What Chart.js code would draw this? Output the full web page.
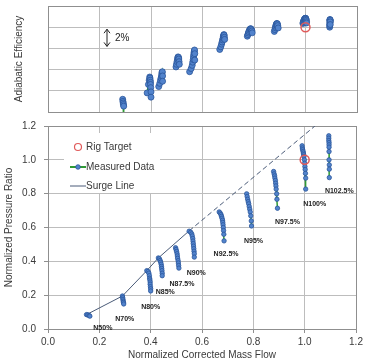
<!DOCTYPE html>
<html><head><meta charset="utf-8">
<script src="https://cdn.jsdelivr.net/npm/chart.js@4"></script>
<style>
html,body{margin:0;padding:0;background:#fff;}
#wrap{position:relative;width:367px;height:361px;overflow:hidden;}
#c1{position:absolute;left:0;top:0;}
#c2{position:absolute;left:0;top:118px;}
</style></head><body>
<div id="wrap"><canvas id="c1" width="367" height="118"></canvas><canvas id="c2" width="367" height="243"></canvas></div>
<script>
// ---- data ----
const speedNames = ['N50%','N70%','N80%','N85%','N87.5%','N90%','N92.5%','N95%','N97.5%','N100%','N102.5%'];

const flowN50 = [0.150,0.155,0.160,0.163];
const prN50   = [0.085,0.084,0.080,0.076];
const effN50  = [-3.0,-3.2,-3.6,-4.2];

const flowN70 = [0.290,0.291,0.292,0.293,0.294,0.295];
const prN70   = [0.195,0.185,0.175,0.165,0.157,0.148];
const effN70  = [1.2,1.0,0.85,0.7,0.55,-1.5];

const flowN80 = [0.385,0.390,0.393,0.395,0.396,0.397,0.398,0.398,0.399,0.400,0.400];
const prN80   = [0.345,0.340,0.330,0.315,0.300,0.290,0.278,0.265,0.250,0.238,0.225];
const effN80  = [1.8,2.6,3.0,3.3,3.2,3.0,2.8,2.6,2.3,1.9,1.4];

const flowN85 = [0.430,0.434,0.437,0.439,0.441,0.442,0.443,0.444,0.445,0.445];
const prN85   = [0.420,0.415,0.405,0.395,0.383,0.370,0.358,0.345,0.330,0.315];
const effN85  = [2.4,2.7,3.0,3.2,3.4,3.6,3.75,3.8,3.4,2.9];

const flowN875 = [0.497,0.499,0.501,0.503,0.504,0.505,0.507,0.508,0.509,0.510];
const prN875   = [0.480,0.470,0.458,0.445,0.432,0.418,0.404,0.390,0.375,0.360];
const effN875  = [4.25,4.5,4.75,4.95,5.1,5.2,5.15,5.0,4.75,4.5];

const flowN90 = [0.550,0.556,0.560,0.562,0.564,0.565,0.566,0.567,0.568,0.569,0.570,0.570];
const prN90   = [0.578,0.572,0.562,0.550,0.535,0.520,0.505,0.490,0.475,0.460,0.445,0.425];
const effN90  = [3.8,4.1,4.4,4.7,4.95,5.2,5.4,5.6,5.75,5.85,5.5,4.9];

const flowN925 = [0.667,0.671,0.674,0.676,0.678,0.680,0.681,0.682,0.683,0.684,0.685,0.686];
const prN925   = [0.692,0.685,0.676,0.666,0.655,0.643,0.630,0.616,0.600,0.582,0.560,0.521];
const effN925  = [5.9,6.15,6.4,6.6,6.8,6.95,7.1,7.22,7.3,7.25,7.05,6.85];

const flowN95 = [0.774,0.776,0.778,0.780,0.782,0.784,0.786,0.788,0.790,0.792,0.793];
const prN95   = [0.799,0.783,0.767,0.753,0.740,0.724,0.708,0.692,0.669,0.639,0.609];
const effN95  = [7.15,7.3,7.45,7.58,7.7,7.8,7.85,7.85,7.78,7.65,7.47];

const flowN975 = [0.879,0.881,0.883,0.884,0.886,0.887,0.888,0.889,0.891,0.892,0.894];
const prN975   = [0.931,0.917,0.905,0.892,0.878,0.862,0.846,0.827,0.799,0.767,0.714];
const effN975  = [7.6,7.78,7.95,8.08,8.2,8.28,8.33,8.35,8.3,8.15,7.93];

const flowN100 = [0.990,0.991,0.992,0.994,0.995,0.996,0.997,0.999,1.000,1.001,1.002,1.003,1.004,1.004];
const prN100   = [1.083,1.070,1.060,1.050,1.040,1.030,1.020,1.000,0.980,0.960,0.943,0.920,0.892,0.827];
const effN100  = [8.35,8.45,8.55,8.62,8.7,8.76,8.8,8.84,8.85,8.82,8.75,8.65,8.52,8.4];

const flowN1025 = [1.094,1.094,1.094,1.095,1.095,1.095,1.095,1.095,1.096,1.096,1.096];
const prN1025   = [1.142,1.128,1.114,1.102,1.089,1.075,1.049,1.000,0.970,0.945,0.895];
const effN1025  = [8.0,8.15,8.3,8.45,8.55,8.65,8.7,8.72,8.65,8.5,8.25];

const rigFlow = [1.0];
const rigPr   = [1.0];
const rigEff  = [8.0];

const surgeFlow = [0.150,0.290,0.385,0.430,0.550];
const surgePr   = [0.085,0.195,0.345,0.420,0.580];
const surgeExtFlow = [0.550,1.040];
const surgeExtPr   = [0.580,1.200];

const xTicks = [0,0.2,0.4,0.6,0.8,1.0,1.2];
const prTicks = [0,0.2,0.4,0.6,0.8,1.0,1.2];
const effGrid = [0,2,4,6,8,10];

const allFlow = [flowN50,flowN70,flowN80,flowN85,flowN875,flowN90,flowN925,flowN95,flowN975,flowN100,flowN1025];
const allPr   = [prN50,prN70,prN80,prN85,prN875,prN90,prN925,prN95,prN975,prN100,prN1025];
const allEff  = [effN50,effN70,effN80,effN85,effN875,effN90,effN925,effN95,effN975,effN100,effN1025];

// label offsets (px) from the last point of each speed line
const labelDx = [13,1,0,3,3,2,2,2,10,9,10];
const labelDy = [12,15,16,16,16,16,13,15,14,15,13];

// ---- styles ----
const FONT = "'Liberation Sans', Arial, sans-serif";
const TXT = '#3a3a3a';
const GRID = '#bdbdbd';
const FRAME = '#8f8f8f';
const PFILL = '#5283cc';
const PEDGE = '#2a559a';
const GREEN = '#2f9a35';
const SURGE = '#4a5b78';
const RED = '#e05a5a';

const zip = (xs, ys) => xs.map((x,i) => ({x, y: ys[i]}));

function speedSets(yArrs, radius){
  return allFlow.map((f,i) => ({
    label: speedNames[i], type:'line', data: zip(f, yArrs[i]),
    borderColor: GREEN, borderWidth: 1.5, showLine: true, tension: 0,
    pointRadius: radius, pointBackgroundColor: PFILL, pointBorderColor: PEDGE,
    pointBorderWidth: 0.8
  }));
}

function gridColor(ctx){
  const v = ctx.tick && ctx.tick.value;
  return (v === 1.2 || v === 10) ? FRAME : GRID;
}

// ---- top chart: efficiency ----
const topAnno = {
  id:'topAnno',
  afterDatasetsDraw(chart){
    const {ctx, chartArea:a, scales:{y}} = chart;
    const x = a.left + 59;
    const y1 = y.getPixelForValue(8) + 2, y2 = y.getPixelForValue(6) - 2;
    ctx.save();
    ctx.strokeStyle = '#222'; ctx.lineWidth = 1;
    ctx.beginPath(); ctx.moveTo(x, y1); ctx.lineTo(x, y2);
    ctx.moveTo(x-3, y1+4); ctx.lineTo(x, y1); ctx.lineTo(x+3, y1+4);
    ctx.moveTo(x-3, y2-4); ctx.lineTo(x, y2); ctx.lineTo(x+3, y2-4);
    ctx.stroke();
    ctx.fillStyle = '#222'; ctx.font = '10px ' + FONT;
    ctx.textAlign = 'left'; ctx.textBaseline = 'middle';
    ctx.fillText('2%', x + 8, (y1+y2)/2);
    ctx.restore();
  }
};

new Chart(document.getElementById('c1'), {
  type: 'scatter',
  data: { datasets: [
    { label:'Rig Target', data: zip(rigFlow, rigEff), pointRadius: 4.5, pointBackgroundColor:'rgba(255,255,255,0)', pointBorderColor: RED, pointBorderWidth: 1.5 },
    ...speedSets(allEff, 3)
  ]},
  options: {
    responsive:false, animation:false, devicePixelRatio:1,
    layout:{padding:{top:6,right:10,left:0,bottom:0}},
    plugins:{legend:{display:false}, tooltip:{enabled:false}},
    scales:{
      x:{type:'linear', min:0, max:1.2, afterBuildTicks:s=>{s.ticks = xTicks.map(v=>({value:v}));},
         ticks:{display:false}, grid:{color:gridColor, drawTicks:false}, border:{color:FRAME},
         afterFit:s=>{s.height = 4;}},
      y:{type:'linear', min:0, max:10, afterBuildTicks:s=>{s.ticks = effGrid.map(v=>({value:v}));},
         ticks:{display:false}, grid:{color:gridColor, drawTicks:false}, border:{color:FRAME},
         title:{display:true, text:'Adiabatic Efficiency', color:TXT, font:{family:FONT,size:10}, padding:{top:13,bottom:0}},
         afterFit:s=>{s.width = 48; s.paddingTop = 0; s.paddingBottom = 0;}}
    }
  },
  plugins:[topAnno]
});

// ---- bottom chart: pressure ratio ----
const botAnno = {
  id:'botAnno',
  beforeDatasetsDraw(chart){
    const {ctx, chartArea:a} = chart;
    ctx.save();
    ctx.fillStyle = '#fff';
    ctx.fillRect(a.left + 16, a.top + 7, 96, 60);
    const mx = a.left + 30, tx = a.left + 38;
    const rows = [a.top + 21, a.top + 41, a.top + 60];
    ctx.font = '10px ' + FONT; ctx.fillStyle = TXT; ctx.textBaseline = 'middle'; ctx.textAlign = 'left';
    // Rig Target
    ctx.strokeStyle = RED; ctx.lineWidth = 1.2;
    ctx.beginPath(); ctx.arc(mx, rows[0], 3.5, 0, Math.PI*2); ctx.stroke();
    ctx.fillText('Rig Target', tx, rows[0]);
    // Measured Data
    ctx.strokeStyle = GREEN; ctx.lineWidth = 2;
    ctx.beginPath(); ctx.moveTo(a.left + 22, rows[1]); ctx.lineTo(a.left + 38, rows[1]); ctx.stroke();
    ctx.fillStyle = PFILL; ctx.strokeStyle = PEDGE; ctx.lineWidth = 0.8;
    ctx.beginPath(); ctx.arc(mx, rows[1], 2.3, 0, Math.PI*2); ctx.fill(); ctx.stroke();
    ctx.fillStyle = TXT;
    ctx.fillText('Measured Data', tx, rows[1]);
    // Surge Line
    ctx.strokeStyle = SURGE; ctx.lineWidth = 1;
    ctx.beginPath(); ctx.moveTo(a.left + 22, rows[2]); ctx.lineTo(a.left + 38, rows[2]); ctx.stroke();
    ctx.fillText('Surge Line', tx, rows[2]);
    ctx.restore();
  },
  afterDatasetsDraw(chart){
    const {ctx, scales:{x, y}} = chart;
    ctx.save();
    ctx.font = 'bold 7px ' + FONT; ctx.fillStyle = '#222';
    ctx.textAlign = 'center'; ctx.textBaseline = 'middle';
    speedNames.forEach((n,i) => {
      const f = allFlow[i], p = allPr[i];
      const px = x.getPixelForValue(f[f.length-1]) + labelDx[i];
      const py = y.getPixelForValue(p[p.length-1]) + labelDy[i];
      ctx.fillText(n, px, py);
    });
    ctx.restore();
  }
};

new Chart(document.getElementById('c2'), {
  type: 'scatter',
  data: { datasets: [
    { label:'Rig Target', data: zip(rigFlow, rigPr), pointRadius: 4.5, pointBackgroundColor:'rgba(255,255,255,0)', pointBorderColor: RED, pointBorderWidth: 1.5 },
    ...speedSets(allPr, 2.2),
    { label:'Surge Line', type:'line', data: zip(surgeFlow, surgePr), borderColor: SURGE, borderWidth: 1, pointRadius: 0, tension: 0 },
    { label:'Surge Line ext', type:'line', data: zip(surgeExtFlow, surgeExtPr), borderColor: SURGE, borderWidth: 1, borderDash:[5,3], pointRadius: 0, tension: 0 }
  ]},
  options: {
    responsive:false, animation:false, devicePixelRatio:1,
    layout:{padding:{top:8,right:11,left:0,bottom:0}},
    plugins:{legend:{display:false}, tooltip:{enabled:false}},
    scales:{
      x:{type:'linear', min:0, max:1.2, afterBuildTicks:s=>{s.ticks = xTicks.map(v=>({value:v}));},
         ticks:{color:TXT, font:{family:FONT,size:10}, padding:3, maxRotation:0, callback:v=>v.toFixed(1)},
         grid:{color:gridColor, tickLength:4, tickColor:FRAME}, border:{color:FRAME},
         title:{display:true, text:'Normalized Corrected Mass Flow', color:TXT, font:{family:FONT,size:10}, padding:{top:0,bottom:0}},
         afterFit:s=>{s.height = 32; s.paddingLeft = 0; s.paddingRight = 0;}},
      y:{type:'linear', min:0, max:1.2, afterBuildTicks:s=>{s.ticks = prTicks.map(v=>({value:v}));},
         ticks:{color:TXT, font:{family:FONT,size:10}, padding:8, callback:v=>v.toFixed(1)},
         grid:{color:gridColor, tickLength:4, tickColor:FRAME}, border:{color:FRAME},
         title:{display:true, text:'Normalized Pressure Ratio', color:TXT, font:{family:FONT,size:10}, padding:{top:3,bottom:0}},
         afterFit:s=>{s.width = 48; s.paddingTop = 0; s.paddingBottom = 0;}}
    }
  },
  plugins:[botAnno]
});
</script>
</body></html>
